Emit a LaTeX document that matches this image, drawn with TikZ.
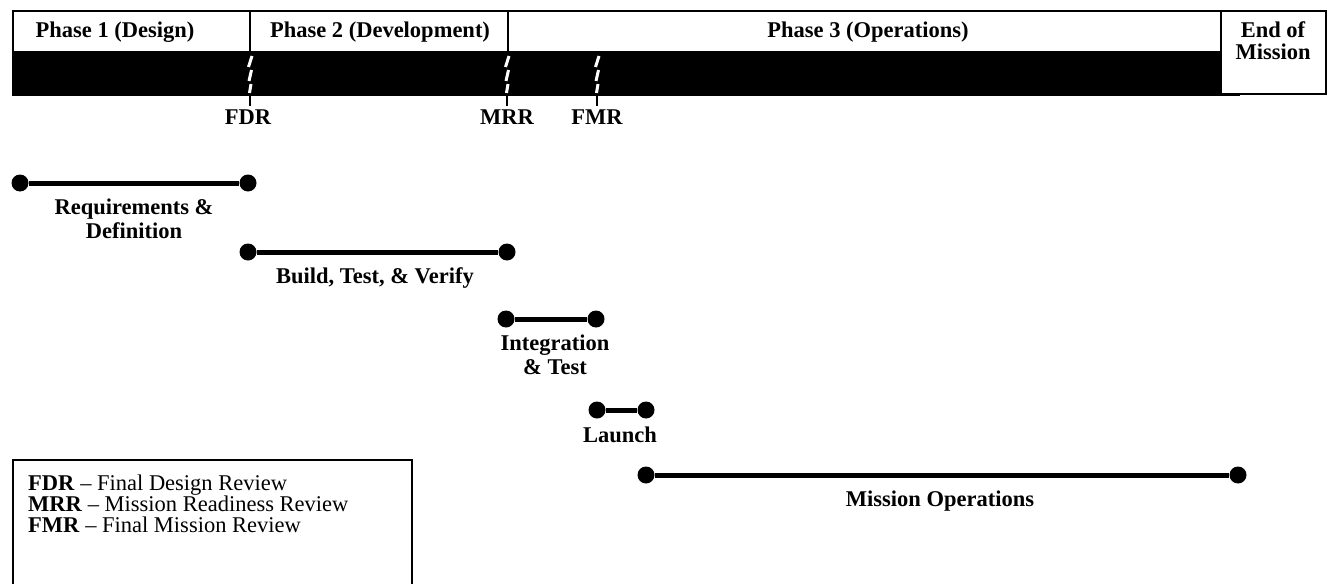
\documentclass[tikz,border=0pt]{standalone}
\usepackage{fontspec}
\setmainfont{Liberation Serif}
\begin{document}
\begin{tikzpicture}[x=1pt,y=-1pt,
  lbl/.style={font=\bfseries\fontsize{22.5}{24}\selectfont, align=center, inner sep=0pt},
  dot/.style={circle, fill=black, minimum size=17pt, inner sep=0pt},
  bar/.style={line width=5pt},
  frame/.style={line width=1.4pt},
  ms/.style={white, line width=3pt},
  tick/.style={line width=2.2pt}]
\useasboundingbox (0,0) rectangle (1329,583);
% header
\fill[black] (13,52) rectangle (1240,96);
\draw[frame, fill=white] (13,11) rectangle (1221,52);
\draw[frame] (13,52) -- (13,96);
\draw[frame] (250,11) -- (250,52);
\draw[frame] (508,11) -- (508,52);
\draw[frame, fill=white] (1221,11) rectangle (1326,94);
\node[lbl] (p1) at (115,32) {Phase 1 (Design)};
\node[lbl] (p2) at (380,32) {Phase 2 (Development)};
\node[lbl] (p3) at (868,32) {Phase 3 (Operations)};
\node[lbl, font=\bfseries\fontsize{22.5}{22}\selectfont] (eom) at (1273,41) {End of\\Mission};
% milestones
\foreach \mx in {250,507,597}{
  \draw[ms] (\mx+2,56) -- (\mx-1.5,67);
  \draw[ms] (\mx+1.5,70) -- (\mx-1,81);
  \draw[ms] (\mx+1,84) -- (\mx-0.5,93);
  \draw[tick] (\mx,94) -- (\mx,106);
}
\node[lbl] (fdr) at (248,117) {FDR};
\node[lbl] (mrr) at (507,117) {MRR};
\node[lbl] (fmr) at (597,117) {FMR};
% gantt
\node[dot] (r1) at (20,183) {};
\node[dot] (r2) at (248,183) {};
\draw[bar] (r1) -- (r2);
\node[lbl] (rl) at (134,219) {Requirements \&\\Definition};
\node[dot] (b1) at (248,252) {};
\node[dot] (b2) at (507,252) {};
\draw[bar] (b1) -- (b2);
\node[lbl] (bl) at (375,278) {Build, Test, \& Verify};
\node[dot] (i1) at (506,319) {};
\node[dot] (i2) at (596,319) {};
\draw[bar] (i1) -- (i2);
\node[lbl] (il) at (555,355) {Integration\\\& Test};
\node[dot] (l1) at (597,410) {};
\node[dot] (l2) at (646,410) {};
\draw[bar] (l1) -- (l2);
\node[lbl] (ll) at (620,435) {Launch};
\node[dot] (m1) at (646,475) {};
\node[dot] (m2) at (1238,475) {};
\draw[bar] (m1) -- (m2);
\node[lbl] (ml) at (940,501) {Mission Operations};
% legend
\draw[frame] (13,590) -- (13,460) -- (412,460) -- (412,590);
\node[anchor=north west, align=left, inner sep=0pt, font=\fontsize{22.5}{21}\selectfont] (leg) at (28,475)
 {\textbf{FDR} -- Final Design Review\\\textbf{MRR} -- Mission Readiness Review\\\textbf{FMR} -- Final Mission Review};
\end{tikzpicture}
\end{document}
